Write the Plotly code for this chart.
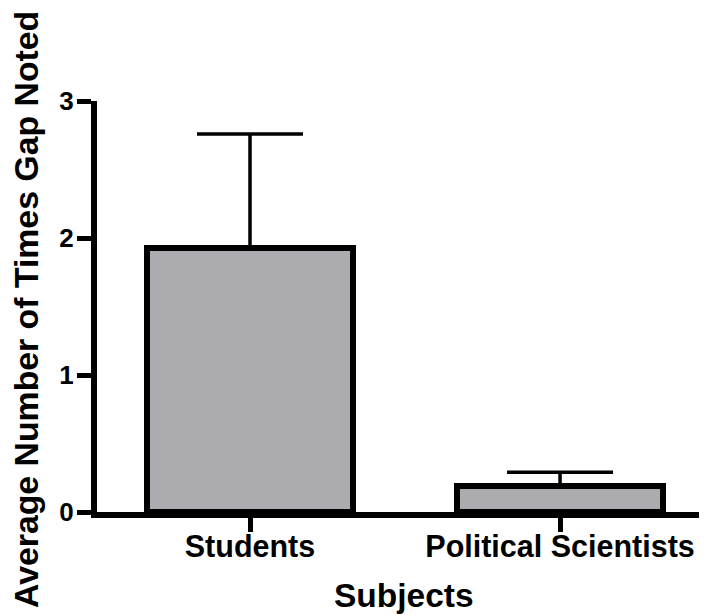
import plotly.graph_objects as go

categories = ["Students", "Political Scientists"]
means = [1.93, 0.19]
errors_upper = [0.83, 0.10]
y_ticks = [0, 1, 2, 3]

FONT = "Liberation Sans, Arial, sans-serif"

# The page body has an 8px default margin; figure is sized so the plot area
# lands at page pixels x 97..707, y 101..512.
fig = go.Figure()
fig.add_trace(go.Bar(
    x=list(range(len(categories))),
    y=means,
    width=0.665,
    marker=dict(color="#ABABB0", line=dict(color="black", width=6)),
    error_y=dict(type="data", array=errors_upper, arrayminus=[0] * len(means),
                 symmetric=False, color="black", thickness=3.5, width=53),
    showlegend=False,
))

fig.update_layout(
    width=699, height=607,
    margin=dict(l=89, r=0, t=93, b=103),
    plot_bgcolor="white", paper_bgcolor="white",
    font=dict(family=FONT, color="black"),
    bargap=0,
    xaxis=dict(
        range=[-0.4935, 1.474],
        tickvals=list(range(len(categories))),
        ticktext=[f"<b>{c}</b>" for c in categories],
        tickfont=dict(size=30.5, family=FONT, color="black"),
        showline=True, linecolor="black", linewidth=6,
        ticks="outside", ticklen=14, tickwidth=5, tickcolor="black",
        ticklabelstandoff=-12,
        showgrid=False, zeroline=False,
    ),
    yaxis=dict(
        range=[0, 3],
        tickvals=y_ticks,
        ticktext=[f"<b>{t}</b>" for t in y_ticks],
        tickfont=dict(size=26, family=FONT, color="black"),
        showline=True, linecolor="black", linewidth=6,
        ticks="outside", ticklen=14, tickwidth=5, tickcolor="black",
        ticklabelstandoff=-2,
        showgrid=False, zeroline=False,
    ),
    annotations=[
        dict(text="<b>Average Number of Times Gap Noted</b>", textangle=-90,
             xref="paper", yref="paper", x=(26 - 97) / 610, y=(512 - 310) / 411,
             xanchor="center", yanchor="middle", showarrow=False,
             font=dict(size=33.8, family=FONT, color="black")),
        dict(text="<b>Subjects</b>",
             xref="paper", yref="paper", x=(404 - 97) / 610, y=(512 - 595) / 411,
             xanchor="center", yanchor="middle", showarrow=False,
             font=dict(size=33.5, family=FONT, color="black")),
    ],
)

fig.write_html("out.html")
